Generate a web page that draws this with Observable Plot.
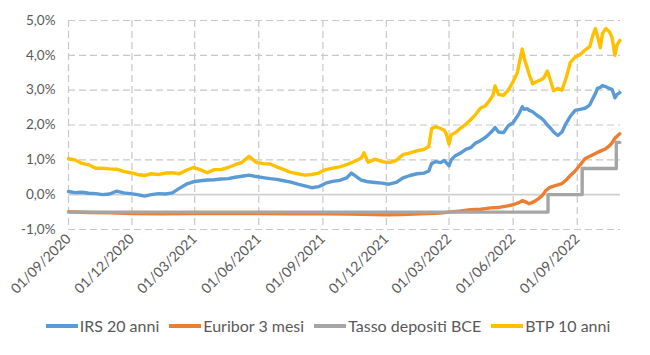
<!DOCTYPE html>
<html>
<head>
<meta charset="utf-8">
<script src="https://cdn.jsdelivr.net/npm/d3@7"></script>
<script src="https://cdn.jsdelivr.net/npm/@observablehq/plot@0.6"></script>
<style>
  html, body { margin: 0; padding: 0; background: #fff; }
  #chart { width: 650px; height: 355px; font-family: Lato, "Open Sans", sans-serif; }
  #legend { display: flex; justify-content: center; align-items: center; gap: 10px;
            font: 16px Lato, sans-serif; color: #595959; padding-top: 6px; padding-left: 6px; }
  #legend .item { display: flex; align-items: center; gap: 2px; white-space: nowrap; }
</style>
</head>
<body>
<div id="chart"></div>
<script>
// Shared dates for IRS 20 anni and BTP 10 anni
const dates = [
  "2020-09-01","2020-09-10","2020-09-20","2020-09-30","2020-10-10","2020-10-20","2020-10-30","2020-11-09","2020-11-19","2020-11-29",
  "2020-12-09","2020-12-19","2020-12-29","2021-01-08","2021-01-18","2021-01-28","2021-02-07","2021-02-17","2021-02-27","2021-03-09",
  "2021-03-19","2021-03-29","2021-04-08","2021-04-18","2021-04-28","2021-05-08","2021-05-18","2021-05-28","2021-06-07","2021-06-17",
  "2021-06-27","2021-07-07","2021-07-17","2021-07-27","2021-08-06","2021-08-16","2021-08-26","2021-09-05","2021-09-15","2021-09-25",
  "2021-10-05","2021-10-12","2021-10-19","2021-10-26","2021-10-30","2021-11-05","2021-11-15","2021-11-25","2021-12-05","2021-12-15",
  "2021-12-25","2022-01-04","2022-01-14","2022-01-24","2022-01-31","2022-02-04","2022-02-10","2022-02-17","2022-02-22","2022-02-25",
  "2022-03-01","2022-03-04","2022-03-10","2022-03-18","2022-03-25","2022-04-01","2022-04-08","2022-04-15","2022-04-22","2022-04-28",
  "2022-05-03","2022-05-06","2022-05-11","2022-05-18","2022-05-25","2022-06-01","2022-06-07","2022-06-10","2022-06-14","2022-06-17",
  "2022-06-21","2022-06-24","2022-06-29","2022-07-05","2022-07-11","2022-07-15","2022-07-20","2022-07-25","2022-07-29","2022-08-04",
  "2022-08-10","2022-08-16","2022-08-22","2022-08-29","2022-09-05","2022-09-12","2022-09-19","2022-09-23","2022-09-27","2022-09-30",
  "2022-10-04","2022-10-07","2022-10-12","2022-10-17","2022-10-21","2022-10-25","2022-10-28","2022-11-01"
];
const irs20 = [
  0.09,0.06,0.07,0.04,0.03,0.00,0.02,0.10,0.05,0.03,
  0.00,-0.04,0.00,0.03,0.02,0.05,0.18,0.30,0.37,0.40,
  0.42,0.43,0.45,0.46,0.50,0.53,0.56,0.52,0.49,0.46,
  0.44,0.40,0.36,0.30,0.25,0.20,0.23,0.33,0.38,0.41,
  0.48,0.62,0.52,0.42,0.40,0.37,0.35,0.33,0.30,0.35,
  0.48,0.55,0.60,0.62,0.68,0.90,0.95,0.92,0.98,0.92,
  0.83,1.00,1.12,1.20,1.30,1.35,1.48,1.55,1.64,1.75,
  1.85,1.93,1.80,1.78,1.98,2.07,2.25,2.35,2.52,2.45,
  2.47,2.42,2.38,2.28,2.20,2.13,2.00,1.90,1.80,1.70,
  1.80,2.05,2.25,2.42,2.45,2.48,2.58,2.75,2.90,3.05,
  3.08,3.13,3.10,3.05,3.02,2.78,2.88,2.93
];
const btp10 = [
  1.03,1.00,0.90,0.86,0.76,0.76,0.74,0.73,0.67,0.63,
  0.58,0.55,0.60,0.58,0.62,0.63,0.60,0.70,0.78,0.72,
  0.63,0.72,0.72,0.78,0.86,0.93,1.10,0.93,0.89,0.88,
  0.80,0.72,0.64,0.60,0.56,0.58,0.62,0.72,0.76,0.80,
  0.86,0.92,0.98,1.05,1.20,0.93,1.02,0.95,0.92,0.98,
  1.15,1.20,1.26,1.30,1.38,1.90,1.95,1.90,1.85,1.75,
  1.45,1.72,1.78,1.92,2.02,2.15,2.30,2.48,2.55,2.70,
  2.85,3.12,2.88,2.85,3.00,3.25,3.50,3.80,4.18,3.90,
  3.65,3.45,3.18,3.25,3.30,3.35,3.55,3.25,2.98,3.05,
  3.00,3.35,3.80,3.95,4.02,4.15,4.25,4.55,4.77,4.55,
  4.22,4.62,4.77,4.68,4.50,4.00,4.30,4.43
];
const euriborDates = [
  "2020-09-01","2020-10-01","2020-10-31","2020-12-01","2021-01-11","2021-03-01","2021-04-22","2021-06-01","2021-07-17","2021-09-01",
  "2021-10-11","2021-12-01","2021-12-22","2022-01-20","2022-02-17","2022-03-01","2022-03-18","2022-04-01","2022-04-16","2022-04-30",
  "2022-05-10","2022-05-22","2022-06-01","2022-06-10","2022-06-14","2022-06-18","2022-06-24","2022-07-01","2022-07-07","2022-07-13",
  "2022-07-18","2022-07-23","2022-07-28","2022-08-04","2022-08-10","2022-08-16","2022-08-22","2022-08-29","2022-09-02","2022-09-07",
  "2022-09-12","2022-09-19","2022-09-27","2022-10-04","2022-10-12","2022-10-17","2022-10-21","2022-10-25","2022-11-01"
];
const euribor3m = [
  -0.49,-0.51,-0.52,-0.54,-0.55,-0.54,-0.54,-0.54,-0.55,-0.55,
  -0.56,-0.58,-0.57,-0.55,-0.53,-0.50,-0.47,-0.43,-0.42,-0.38,
  -0.37,-0.33,-0.29,-0.22,-0.17,-0.20,-0.26,-0.20,-0.12,-0.02,
  0.12,0.20,0.24,0.28,0.32,0.42,0.55,0.68,0.78,0.90,
  1.03,1.10,1.18,1.25,1.32,1.40,1.49,1.62,1.75
];
const bceDates = ["2020-09-01","2022-07-21","2022-09-08","2022-10-27","2022-11-01"];
const bceRates = [-0.5, 0.0, 0.75, 1.5, 1.5];

const xTickDates = ["2020-09-01","2020-12-01","2021-03-01","2021-06-01","2021-09-01","2021-12-01","2022-03-01","2022-06-01","2022-09-01"];
const yTicks = [-1, 0, 1, 2, 3, 4, 5];

const seriesNames = ["IRS 20 anni", "Euribor 3 mesi", "Tasso depositi BCE", "BTP 10 anni"];
const seriesColors = ["#5B9BD5", "#ED7D31", "#A5A5A5", "#FFC000"];

const parse = d3.utcParse("%Y-%m-%d");
const rowsOf = (ds, vs) => ds.map((d, i) => ({date: parse(d), value: vs[i]}));
const irsRows = rowsOf(dates, irs20);
const btpRows = rowsOf(dates, btp10);
const eurRows = rowsOf(euriborDates, euribor3m);
const bceRows = rowsOf(bceDates, bceRates);
const xTicks = xTickDates.map(parse);

const gridStyle = {stroke: "#c8c8c8", strokeOpacity: 1, strokeWidth: 1.2, strokeDasharray: "7,4"};

const chart = Plot.plot({
  width: 650,
  height: 310,
  marginLeft: 68,
  marginRight: 30,
  marginTop: 20,
  marginBottom: 81,
  style: {fontFamily: "Lato, sans-serif", fontSize: "13px", color: "#595959", background: "#fff", overflow: "visible"},
  x: {type: "utc", domain: [parse("2020-09-01"), parse("2022-11-02")]},
  y: {domain: [-1, 5]},
  marks: [
    Plot.gridY(yTicks.filter(d => d !== 0), gridStyle),
    Plot.gridX(xTicks, gridStyle),
    Plot.ruleY([0], {stroke: "#d0d0d0", strokeWidth: 1.6}),
    Plot.axisY(yTicks, {tickSize: 0, tickPadding: 13, label: null, fill: "#595959", fontSize: 13.5,
      tickFormat: d => d.toFixed(1).replace(".", ",") + "%"}),
    Plot.axisX(xTicks, {tickSize: 0, tickPadding: 7, tickRotate: -45, label: null, fill: "#595959", fontSize: 14,
      tickFormat: d3.utcFormat("%d/%m/%Y")}),
    Plot.lineY(irsRows, {x: "date", y: "value", stroke: seriesColors[0], strokeWidth: 3.4}),
    Plot.lineY(eurRows, {x: "date", y: "value", stroke: seriesColors[1], strokeWidth: 3.4}),
    Plot.lineY(bceRows, {x: "date", y: "value", stroke: seriesColors[2], strokeWidth: 3.4, curve: "step-after"}),
    Plot.lineY(btpRows, {x: "date", y: "value", stroke: seriesColors[3], strokeWidth: 3.4})
  ]
});

const root = document.getElementById("chart");
root.appendChild(chart);

const legend = document.createElement("div");
legend.id = "legend";
seriesNames.forEach((name, i) => {
  const item = document.createElement("span");
  item.className = "item";
  const ns = "http://www.w3.org/2000/svg";
  const sw = document.createElementNS(ns, "svg");
  sw.setAttribute("width", "32");
  sw.setAttribute("height", "6");
  const ln = document.createElementNS(ns, "line");
  ln.setAttribute("x1", "0"); ln.setAttribute("x2", "32");
  ln.setAttribute("y1", "3"); ln.setAttribute("y2", "3");
  ln.setAttribute("stroke", seriesColors[i]);
  ln.setAttribute("stroke-width", "4");
  sw.appendChild(ln);
  item.appendChild(sw);
  const t = document.createElement("span");
  t.textContent = name;
  item.appendChild(t);
  legend.appendChild(item);
});
root.appendChild(legend);
</script>
</body>
</html>
